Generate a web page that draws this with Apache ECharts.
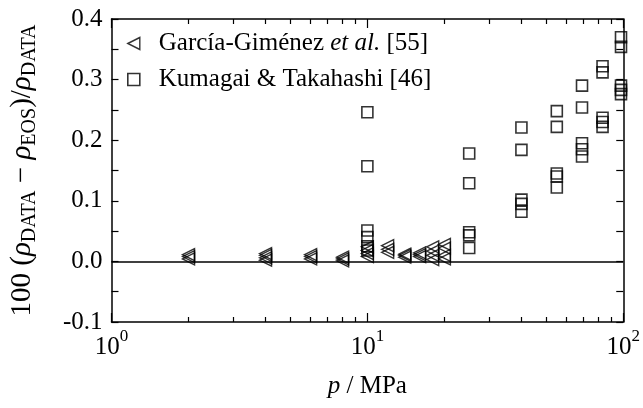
<!DOCTYPE html>
<html>
<head>
    <meta charset="UTF-8">
    <title>Density deviations vs pressure</title>
    <script src="https://cdn.jsdelivr.net/npm/echarts@6/dist/echarts.min.js"></script>
    <style>
        html, body { margin: 0; padding: 0; background: #fff; }
    </style>
</head>
<body>
    <div id="main" style="width: 643px; height: 408px;"></div>

    <script>
        // García-Giménez et al. [55]: pressure (MPa) and deviation (%)
        var garciaP = [2, 2, 2, 4, 4, 4, 4, 6, 6, 6, 8, 8, 8,
                       10, 10, 10, 10, 12, 12, 12, 14, 14, 14, 16, 16, 16,
                       18, 18, 18, 18, 20, 20, 20, 20];
        var garciaDev = [0.004, 0.008, 0.011, 0.002, 0.006, 0.010, 0.013, 0.004, 0.008, 0.011, 0.001, 0.004, 0.007,
                         0.008, 0.013, 0.018, 0.024, 0.015, 0.020, 0.026, 0.007, 0.010, 0.012, 0.008, 0.011, 0.014,
                         0.003, 0.010, 0.017, 0.024, 0.004, 0.010, 0.022, 0.028];

        // Kumagai & Takahashi [46]
        var kumagaiP = [10, 10, 10, 10, 10, 10,
                        25, 25, 25, 25, 25,
                        40, 40, 40, 40, 40,
                        55, 55, 55, 55, 55,
                        69, 69, 69, 69, 69,
                        83, 83, 83, 83, 83,
                        98, 98, 98, 98, 98];
        var kumagaiDev = [0.246, 0.157, 0.051, 0.040, 0.025, 0.018,
                          0.178, 0.129, 0.048, 0.043, 0.022,
                          0.221, 0.184, 0.102, 0.095, 0.082,
                          0.248, 0.222, 0.145, 0.140, 0.122,
                          0.290, 0.254, 0.195, 0.185, 0.173,
                          0.322, 0.312, 0.237, 0.230, 0.222,
                          0.370, 0.354, 0.290, 0.283, 0.276];

        var seriesNames = ['García-Giménez et al. [55]', 'Kumagai & Takahashi [46]'];
        var minorTickValues = [2, 3, 4, 5, 6, 7, 8, 9, 20, 30, 40, 50, 60, 70, 80, 90];

        function pairs(xs, ys) {
            var out = [];
            for (var i = 0; i < xs.length; i++) {
                out.push([xs[i], ys[i]]);
            }
            return out;
        }

        var serif = 'Liberation Serif';
        var black = '#000';

        var chart = echarts.init(document.getElementById('main'));

        function logAxis(position, major, showLabels) {
            var ax = {
                type: 'log',
                logBase: 10,
                min: 1,
                max: 100,
                position: position,
                axisLine: { show: major, onZero: false, lineStyle: { color: black, width: 1.5 } },
                axisTick: {
                    show: true,
                    inside: true,
                    length: major ? 9 : 5,
                    lineStyle: { color: black, width: 1.2 }
                },
                splitLine: { show: false },
                axisLabel: { show: false }
            };
            if (!major) {
                ax.axisTick.customValues = minorTickValues;
            }
            if (showLabels) {
                ax.axisLabel = {
                    show: true,
                    margin: 6,
                    formatter: function (v) {
                        var e = Math.round(Math.log(v) / Math.LN10);
                        return '{b|10}{s|' + e + '}';
                    },
                    rich: {
                        b: { fontFamily: serif, fontSize: 25, color: black, lineHeight: 38, verticalAlign: 'middle' },
                        s: { fontFamily: serif, fontSize: 17, color: black, lineHeight: 10, verticalAlign: 'top' }
                    }
                };
                ax.name = '{i|p}{n| / MPa}';
                ax.nameLocation = 'middle';
                ax.nameGap = 52;
                ax.nameTextStyle = {
                    rich: {
                        i: { fontFamily: serif, fontSize: 25, fontStyle: 'italic', color: black },
                        n: { fontFamily: serif, fontSize: 25, color: black }
                    }
                };
            }
            return ax;
        }

        function valueAxis(position, showLabels) {
            var ax = {
                type: 'value',
                min: -0.1,
                max: 0.4,
                interval: 0.1,
                position: position,
                axisLine: { show: true, onZero: false, lineStyle: { color: black, width: 1.5 } },
                axisTick: { show: true, inside: true, length: 7, lineStyle: { color: black, width: 1.2 } },
                minorTick: { show: true, splitNumber: 2, length: 7, lineStyle: { color: black, width: 1.2 } },
                splitLine: { show: false },
                minorSplitLine: { show: false },
                axisLabel: { show: false }
            };
            if (showLabels) {
                ax.axisLabel = {
                    show: true,
                    margin: 9,
                    fontFamily: serif,
                    fontSize: 25,
                    color: black,
                    formatter: function (v) { return v.toFixed(1); }
                };
                ax.name = '{n|100 (}{i|ρ}{sub|DATA}{n| − }{i|ρ}{sub|EOS}{n|)/}{i|ρ}{sub|DATA}';
                ax.nameLocation = 'middle';
                ax.nameRotate = 90;
                ax.nameGap = 72;
                ax.nameTextStyle = {
                    rich: {
                        n: { fontFamily: serif, fontSize: 29, color: black, lineHeight: 34, verticalAlign: 'middle' },
                        i: { fontFamily: serif, fontSize: 29, fontStyle: 'italic', color: black, lineHeight: 34, verticalAlign: 'middle' },
                        sub: { fontFamily: serif, fontSize: 20, color: black, lineHeight: 18, verticalAlign: 'bottom' }
                    }
                };
            }
            return ax;
        }

        var triStyle = { color: 'rgba(0,0,0,0)', borderColor: black, borderWidth: 1.4 };
        var sqStyle = { color: 'rgba(0,0,0,0)', borderColor: black, borderWidth: 1.6 };

        var option = {
            backgroundColor: '#fff',
            animation: false,
            grid: { left: 104, right: 12, top: 19, bottom: 86, containLabel: false },
            legend: {
                orient: 'vertical',
                left: 127,
                top: 31,
                itemGap: 11,
                itemWidth: 12,
                itemHeight: 12,
                padding: 0,
                data: [
                    { name: seriesNames[0], icon: 'path://M0,6L12,0L12,12Z', itemStyle: triStyle },
                    { name: seriesNames[1], icon: 'rect', itemStyle: sqStyle }
                ],
                formatter: function (name) {
                    if (name === seriesNames[0]) {
                        return '{n|García-Giménez }{i|et al.}{n| [55]}';
                    }
                    return '{n|' + name + '}';
                },
                textStyle: {
                    padding: [0, 0, 0, 14],
                    rich: {
                        n: { fontFamily: serif, fontSize: 25, color: black, lineHeight: 26 },
                        i: { fontFamily: serif, fontSize: 25, fontStyle: 'italic', color: black, lineHeight: 26 }
                    }
                }
            },
            xAxis: [
                logAxis('bottom', true, true),
                logAxis('bottom', false, false),
                logAxis('top', true, false),
                logAxis('top', false, false)
            ],
            yAxis: [
                valueAxis('left', true),
                valueAxis('right', false)
            ],
            series: [
                {
                    name: seriesNames[0],
                    type: 'scatter',
                    symbol: 'triangle',
                    symbolRotate: 90,
                    symbolSize: 12,
                    itemStyle: triStyle,
                    data: pairs(garciaP, garciaDev),
                    z: 3,
                    markLine: {
                        silent: true,
                        symbol: 'none',
                        label: { show: false },
                        lineStyle: { color: black, type: 'solid', width: 1.5 },
                        data: [{ yAxis: 0 }]
                    }
                },
                {
                    name: seriesNames[1],
                    type: 'scatter',
                    symbol: 'rect',
                    symbolSize: 11,
                    itemStyle: sqStyle,
                    data: pairs(kumagaiP, kumagaiDev),
                    clip: false,
                    z: 3
                }
            ]
        };

        chart.setOption(option);
    </script>
</body>
</html>
